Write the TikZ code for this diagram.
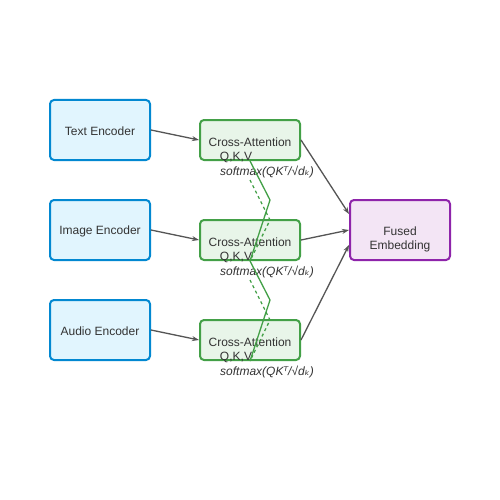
\documentclass[tikz,border=0pt]{standalone}
\usepackage{fontspec}
\setmainfont{Liberation Sans}
\newfontfamily\dejavu{DejaVu Sans}
\usetikzlibrary{arrows.meta}
\definecolor{encfill}{HTML}{E1F5FE}
\definecolor{encdraw}{HTML}{0288D1}
\definecolor{attfill}{HTML}{E8F5E9}
\definecolor{attdraw}{HTML}{43A047}
\definecolor{fusfill}{HTML}{F3E5F5}
\definecolor{fusdraw}{HTML}{8E24AA}
\definecolor{txt}{HTML}{333333}
\definecolor{arrc}{HTML}{555555}
\begin{document}
\begin{tikzpicture}[x=1pt,y=-1pt,
  font=\fontsize{12pt}{14pt}\selectfont,
  enc/.style={draw=encdraw,fill=encfill,line width=2pt,rounded corners=4pt,minimum width=100pt,minimum height=60pt,inner sep=0pt},
  att/.style={draw=attdraw,fill=attfill,line width=2pt,rounded corners=4pt,minimum width=100pt,minimum height=40pt,inner sep=0pt},
  fus/.style={draw=fusdraw,fill=fusfill,line width=2pt,rounded corners=4pt,minimum width=100pt,minimum height=60pt,inner sep=0pt},
  lbl/.style={inner sep=0pt,text=txt},
  arr/.style={draw=arrc,line width=1.3pt,-{Stealth[length=7pt,width=5pt]}},
  gline/.style={draw=attdraw,line width=1.3pt}
]
\useasboundingbox (0,0) rectangle (500,500);
\fill[white] (0,0) rectangle (500,500);
\node[enc] (te) at (100,130) {};
\node[enc] (ie) at (100,230) {};
\node[enc] (ae) at (100,330) {};
\node[lbl] (tet) at (100,131) {Text Encoder};
\node[lbl] (iet) at (100,231) {Image Encoder};
\node[lbl] (aet) at (100,331) {Audio Encoder};
\node[att] (a1) at (250,140) {};
\node[att] (a2) at (250,240) {};
\node[att] (a3) at (250,340) {};
\node[fus] (fu) at (400,230) {};
\node[lbl] (fu1) at (400,231) {Fused};
\node[lbl] (fu2) at (400,246) {Embedding};
\foreach \n/\y in {1/140,2/240,3/340}{
  \node[lbl] (a\n t) at (250,\y+2) {Cross-Attention};
  \node[lbl] (a\n q) at (236,\y+17) {Q,K,V};
  \node[lbl,anchor=west] (a\n s) at (220,\y+32) {\itshape softmax(QK{\dejavu ᵀ}/√d{\dejavu ₖ})};
}
\draw[gline] (a1.south) -- (270,200) -- (a2.south);
\draw[gline,dashed] (250,180) -- (270,220) -- (a2.south);
\draw[gline] (a2.south) -- (270,300) -- (a3.south);
\draw[gline,dashed] (250,280) -- (270,320) -- (a3.south);
\draw[arr] (te.east) -- (a1.west);
\draw[arr] (ie.east) -- (a2.west);
\draw[arr] (ae.east) -- (a3.west);
\draw[arr] (a1.east) -- ([yshift=16pt]fu.west);
\draw[arr] (a2.east) -- (fu.west);
\draw[arr] (a3.east) -- ([yshift=-15pt]fu.west);
\end{tikzpicture}
\end{document}
